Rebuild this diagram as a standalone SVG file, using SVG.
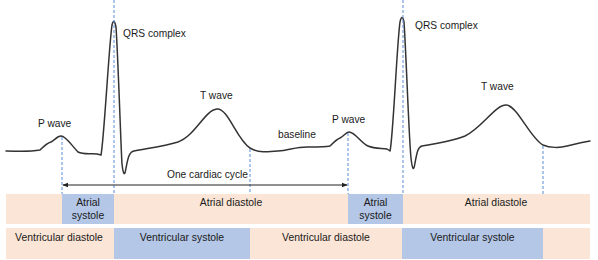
<svg xmlns="http://www.w3.org/2000/svg" width="598" height="260" viewBox="0 0 598 260">
<defs>
<marker id="ah" viewBox="0 0 8 8" refX="7" refY="4" markerWidth="6" markerHeight="6" orient="auto-start-reverse" markerUnits="userSpaceOnUse">
<path d="M0,1 L8,4 L0,7 Z" fill="#222"/>
</marker>
</defs>
<style>
text{font-family:"Liberation Sans",Arial,sans-serif;fill:#1a1a1a}
.lbl{font-size:10.2px}
.bt{font-size:10.4px;text-anchor:middle}
.peach{fill:#FBE5D6}
.blue{fill:#B4C7E7}
.dash{stroke:#5B8BD6;stroke-width:1;stroke-dasharray:3,2;fill:none}
.wave{fill:none;stroke:#333;stroke-width:1.5;stroke-linejoin:round;stroke-linecap:round}
</style>
<rect width="598" height="260" fill="#fff"/>
<g id="ecg-trace">
<path class="wave" d="M6,151 C18,151 28,152 40,150 C44,146 47,143 51,142 C55,140 57,136 61,136 C66,136 72,146 78,152 C84,155 92,153 97,154 L101,155 C104,140 109,45 112,25 Q114,17 116,27 C118,55 121,150 122,164 Q124,181 126,168 C128,158 129,152 134,151 C150,148 165,146 178,142 C195,136 205,110 217,109 C228,108 237,140 250,148 C258,153 268,152 278,151 C290,150 298,146 310,147 C318,147 325,147 330,146 C334,142 337,139 340,138 C344,136 346,132 349,132 C355,132 362,144 368,146 C375,149 382,148 387,149 L390,151 C393,140 397,42 400,22 Q402,13 404,22 C406,50 409,140 411,158 Q413,176 415,163 C417,152 418,147 422,146 C440,143 455,140 465,136 C482,128 495,105 506,105 C517,105 530,138 543,145 C550,148 560,148 567,146 C575,144 583,142 590,141"/>
</g>
<g id="label-p1"><text class="lbl" x="38" y="127">P wave</text></g>
<g id="label-qrs1"><text class="lbl" x="123" y="37">QRS complex</text></g>
<g id="label-t1"><text class="lbl" x="200" y="99">T wave</text></g>
<g id="label-baseline"><text class="lbl" x="278" y="138">baseline</text></g>
<g id="label-p2"><text class="lbl" x="332" y="123">P wave</text></g>
<g id="label-qrs2"><text class="lbl" x="415" y="29">QRS complex</text></g>
<g id="label-t2"><text class="lbl" x="481" y="90">T wave</text></g>
<g id="label-cycle"><text class="lbl" x="167" y="178">One cardiac cycle</text></g>
<g id="atrial-row">
<rect class="peach" x="6" y="194" width="56" height="30"/>
<g id="atrial-systole-1"><rect class="blue" x="62" y="194" width="52" height="30"/><text class="bt" x="88" y="206">Atrial</text><text class="bt" x="88" y="219">systole</text></g>
<g id="atrial-diastole-1"><rect class="peach" x="114" y="194" width="234" height="30"/><text class="bt" x="231" y="206">Atrial diastole</text></g>
<g id="atrial-systole-2"><rect class="blue" x="348" y="194" width="55" height="30"/><text class="bt" x="375.5" y="206">Atrial</text><text class="bt" x="375.5" y="219">systole</text></g>
<g id="atrial-diastole-2"><rect class="peach" x="403" y="194" width="187" height="30"/><text class="bt" x="496" y="206">Atrial diastole</text></g>
</g>
<g id="ventricular-row">
<g id="ventricular-diastole-1"><rect class="peach" x="6" y="228" width="108" height="31"/><text class="bt" x="59" y="241">Ventricular diastole</text></g>
<g id="ventricular-systole-1"><rect class="blue" x="114" y="228" width="136" height="31"/><text class="bt" x="182" y="241">Ventricular systole</text></g>
<g id="ventricular-diastole-2"><rect class="peach" x="250" y="228" width="152" height="31"/><text class="bt" x="326" y="241">Ventricular diastole</text></g>
<g id="ventricular-systole-2"><rect class="blue" x="402" y="228" width="141" height="31"/><text class="bt" x="472.5" y="241">Ventricular systole</text></g>
<rect class="peach" x="543" y="228" width="47" height="31"/>
</g>
<g id="connectors">
<line class="dash" x1="62" y1="137" x2="62" y2="194"/>
<line class="dash" x1="114" y1="0" x2="114" y2="194"/>
<line class="dash" x1="250" y1="149" x2="250" y2="194"/>
<line class="dash" x1="348" y1="133" x2="348" y2="194"/>
<line class="dash" x1="403" y1="0" x2="403" y2="194"/>
<line class="dash" x1="543" y1="146" x2="543" y2="194"/>
<line x1="63" y1="185" x2="347" y2="185" stroke="#222" stroke-width="1" marker-start="url(#ah)" marker-end="url(#ah)"/>
</g>
</svg>
